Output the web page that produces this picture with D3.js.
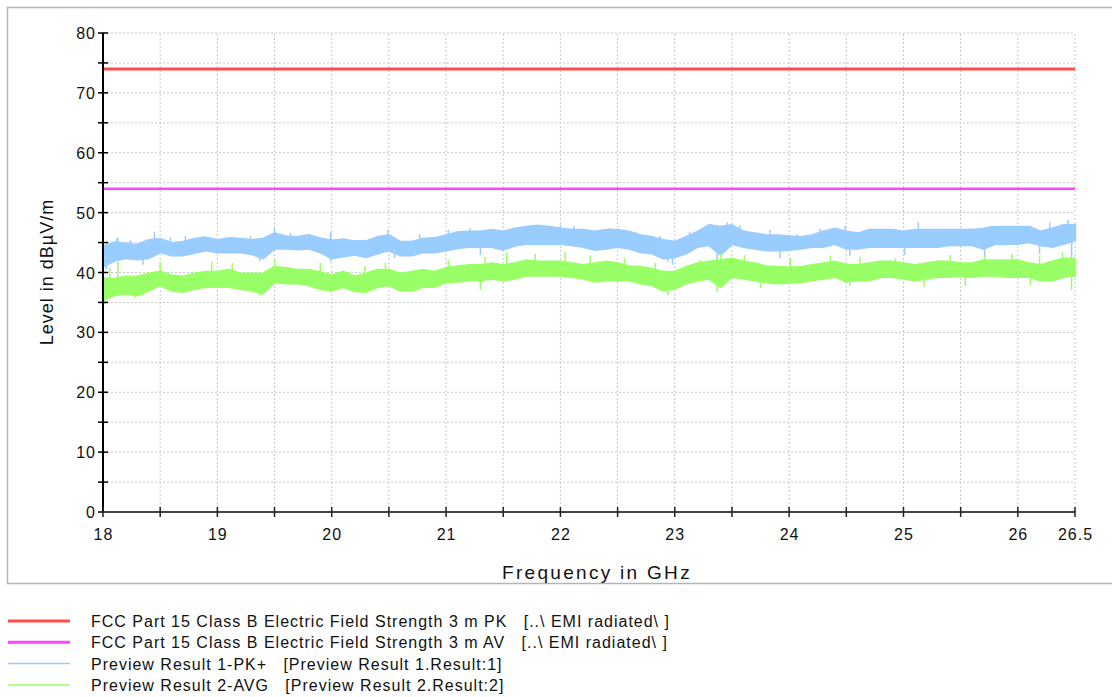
<!DOCTYPE html>
<html>
<head>
<meta charset="utf-8">
<script src="https://cdn.jsdelivr.net/npm/d3@7"></script>
<style>
body { margin: 0; background: #fff; }
svg { font-family: "Liberation Sans", Arial, sans-serif; }
</style>
</head>
<body>
<div id="chart"></div>
<script>
// frequency grid of the traces (GHz), 0.1 GHz steps from 18 to 26.5
var freqs = d3.range(0, 86).map(function(i) { return +(18 + i * 0.1).toFixed(1); });

// limit lines (dBuV/m)
var limitPK = 74;
var limitAV = 54;

// Preview Result 1-PK+ : envelope (low / high)
var pkHigh = [44.3,45.0,44.8,44.6,45.4,45.6,44.9,45.1,45.6,45.8,
              45.4,45.7,45.6,45.4,45.6,46.5,46.0,45.9,46.2,45.7,
              45.3,45.5,45.2,45.2,45.9,46.2,45.1,45.1,45.6,45.7,
              46.2,46.7,46.8,46.8,47.1,46.8,47.3,47.6,47.8,47.6,
              47.3,47.1,47.1,46.8,47.1,47.1,46.8,46.2,45.9,45.4,
              45.1,45.9,46.8,47.9,47.6,47.9,46.8,46.5,46.2,46.2,
              46.0,45.9,46.2,46.8,47.3,46.8,46.5,47.1,47.1,47.1,
              46.8,47.1,47.1,47.1,47.1,47.1,47.1,47.3,47.6,47.6,
              47.6,47.6,46.8,47.3,47.9,47.9];
var pkLow  = [41.0,42.0,42.4,42.2,42.4,43.4,42.9,42.9,43.3,43.7,
              43.4,43.4,43.4,43.1,42.4,44.0,44.0,43.9,44.0,43.4,
              42.4,42.7,43.0,42.6,43.2,43.7,42.9,42.9,43.4,43.4,
              43.7,44.1,44.3,44.3,44.3,43.8,44.5,44.8,44.8,44.8,
              44.8,44.6,44.3,43.8,44.0,44.3,44.0,43.4,43.2,42.4,
              42.6,43.2,44.3,44.6,43.0,44.8,44.3,44.0,43.7,43.7,
              43.8,44.0,44.3,44.3,44.8,44.0,44.0,44.3,44.3,44.3,
              44.3,44.3,44.3,44.3,44.6,44.6,44.6,44.0,44.8,44.8,
              44.8,45.1,44.6,44.3,44.8,45.4];

// Preview Result 2-AVG : envelope (low / high)
var avHigh = [39.0,38.9,39.3,39.3,39.8,40.1,39.5,39.3,39.8,40.1,
              40.1,40.4,39.8,39.8,39.8,40.9,40.7,40.4,40.4,40.0,
              39.5,40.1,39.3,39.8,40.4,40.4,39.8,40.1,40.4,40.1,
              40.7,41.0,41.2,41.2,41.5,41.2,41.5,42.0,41.8,41.8,
              41.8,41.5,41.2,41.5,41.8,41.5,41.0,40.9,40.6,40.1,
              40.1,40.9,41.5,41.8,42.0,42.3,41.8,41.5,41.0,40.9,
              40.8,40.9,41.2,41.5,41.8,41.3,41.2,41.5,41.8,41.8,
              41.5,41.2,41.5,41.8,41.8,41.5,41.5,42.0,42.0,42.0,
              42.0,41.5,41.2,41.8,42.3,42.3];
var avLow  = [35.5,36.2,36.5,36.2,37.0,37.9,37.0,36.8,37.3,37.6,
              37.6,37.6,37.3,37.0,36.5,38.4,38.2,38.2,37.9,37.3,
              37.0,37.6,36.9,36.8,37.6,37.9,37.0,37.0,37.6,37.6,
              38.4,38.5,38.7,38.7,39.0,38.7,39.0,39.5,39.5,39.5,
              39.5,39.3,39.0,38.5,38.7,38.7,38.7,38.2,37.9,37.0,
              37.3,38.2,38.7,39.0,37.6,39.3,39.0,38.7,38.4,38.2,
              38.3,38.4,38.7,39.0,39.3,38.5,38.7,38.7,39.3,39.3,
              39.0,38.7,39.0,39.3,39.3,39.5,39.3,39.5,39.5,39.3,
              39.3,39.3,38.7,38.7,39.3,39.5];

// single spikes sticking out of the bands [freq, level]
var pkSpikes = [[18.03,40.5],[18.12,45.7],[18.13,45.8],[18.24,45.4],[18.28,42.4],[18.35,41.3],
                [18.45,46.8],[18.59,45.9],[18.72,46.1],[18.87,46.1],[19.13,45.9],[19.29,46.1],
                [19.37,41.9],[19.50,47.4],[19.64,46.6],[19.81,46.4],[19.99,46.8],[19.99,41.8],
                [20.26,45.4],[20.49,47.1],[20.55,42.4],[20.77,46.4],[21.02,47.1],[21.21,47.4],
                [21.30,42.9],[21.38,47.1],[21.56,47.1],[21.65,47.6],[21.80,47.8],[22.00,48.0],
                [22.12,47.8],[22.43,47.4],[22.65,46.8],[22.87,46.1],[22.94,41.8],[22.98,41.3],
                [23.13,46.8],[23.32,48.1],[23.37,41.8],[23.46,48.4],[23.57,47.9],[23.83,47.1],
                [23.92,42.4],[24.07,46.4],[24.27,47.3],[24.49,47.8],[24.53,42.8],[24.71,47.3],
                [24.97,46.8],[25.01,42.9],[25.13,48.4],[25.36,47.1],[25.58,47.4],[25.71,42.6],
                [25.76,47.8],[25.93,47.1],[26.11,47.8],[26.19,43.1],[26.28,48.4],[26.44,48.8],
                [26.47,41.8]];
var avSpikes = [[18.02,34.7],[18.06,40.8],[18.13,41.8],[18.28,35.7],[18.35,36.1],[18.50,41.8],
                [18.95,41.8],[19.13,41.6],[19.37,36.1],[19.50,42.1],[19.90,41.6],[19.99,36.7],
                [20.29,41.1],[20.47,41.6],[20.64,37.1],[21.02,42.1],[21.30,37.1],[21.34,42.6],
                [21.53,43.4],[21.78,43.1],[22.04,43.4],[22.26,42.8],[22.56,42.4],[22.83,41.6],
                [22.94,36.2],[23.22,42.1],[23.37,36.7],[23.40,43.1],[23.61,42.9],[23.75,37.4],
                [24.01,42.4],[24.36,42.8],[24.53,37.7],[24.62,42.6],[24.93,42.4],[25.18,37.6],
                [25.41,42.9],[25.54,37.7],[25.71,42.8],[25.95,43.1],[26.11,37.9],[26.19,42.8],
                [26.39,43.4],[26.47,37.1]];

var xTicks = [18, 19, 20, 21, 22, 23, 24, 25, 26, 26.5];
var yTicks = [0, 10, 20, 30, 40, 50, 60, 70, 80];

var legendItems = [
  { label: "FCC Part 15 Class B Electric Field Strength 3 m PK   [..\\ EMI radiated\\ ]", color: "#ff4d4d", w: 3 },
  { label: "FCC Part 15 Class B Electric Field Strength 3 m AV   [..\\ EMI radiated\\ ]", color: "#ff44ff", w: 3 },
  { label: "Preview Result 1-PK+   [Preview Result 1.Result:1]", color: "#99ccff", w: 1.5 },
  { label: "Preview Result 2-AVG   [Preview Result 2.Result:2]", color: "#99ff66", w: 1.5 }
];

var W = 1112, H = 697;
var svg = d3.select("#chart").append("svg")
  .attr("width", W)
  .attr("height", H);

// outer frame
svg.append("rect")
  .attr("x", 7.5).attr("y", 7.5)
  .attr("width", 1110).attr("height", 576)
  .attr("fill", "none")
  .attr("stroke", "#b4b4b4")
  .attr("stroke-width", 1.5);

var x = d3.scaleLinear().domain([18, 26.5]).range([103, 1075]);
var y = d3.scaleLinear().domain([0, 80]).range([512, 33]);

// grid
svg.append("g")
  .selectAll("line")
  .data(d3.range(5, 81, 5))
  .enter().append("line")
  .attr("x1", x(18)).attr("x2", x(26.5))
  .attr("y1", function(d) { return y(d); })
  .attr("y2", function(d) { return y(d); })
  .attr("stroke", "#c8c8c8")
  .attr("stroke-dasharray", "2,2");
svg.append("g")
  .selectAll("line")
  .data(d3.range(18.5, 26.51, 0.5))
  .enter().append("line")
  .attr("y1", y(0)).attr("y2", y(80))
  .attr("x1", function(d) { return x(d); })
  .attr("x2", function(d) { return x(d); })
  .attr("stroke", "#c8c8c8")
  .attr("stroke-dasharray", "2,2");

// limit lines
svg.append("line")
  .attr("x1", x(18)).attr("x2", x(26.5))
  .attr("y1", y(limitPK)).attr("y2", y(limitPK))
  .attr("stroke", "#ff4d4d").attr("stroke-width", 3);
svg.append("line")
  .attr("x1", x(18)).attr("x2", x(26.5))
  .attr("y1", y(limitAV)).attr("y2", y(limitAV))
  .attr("stroke", "#ff44ff").attr("stroke-width", 2.5);

function band(lo, hi, spikes, color) {
  var rows = freqs.map(function(f, i) { return { f: f, lo: lo[i], hi: hi[i] }; });
  svg.append("path")
    .datum(rows)
    .attr("fill", color)
    .attr("stroke", color)
    .attr("stroke-width", 2.5)
    .attr("stroke-linejoin", "miter")
    .attr("d", d3.area()
      .x(function(d) { return x(d.f); })
      .y0(function(d) { return y(d.lo); })
      .y1(function(d) { return y(d.hi); }));
  svg.append("g")
    .selectAll("line")
    .data(spikes)
    .enter().append("line")
    .attr("x1", function(d) { return x(d[0]); })
    .attr("x2", function(d) { return x(d[0]); })
    .attr("y1", function(d) {
      var i = Math.round((d[0] - 18) * 10);
      return y((lo[i] + hi[i]) / 2);
    })
    .attr("y2", function(d) { return y(d[1]); })
    .attr("stroke", color)
    .attr("stroke-width", 1.5);
}
band(pkLow, pkHigh, pkSpikes, "#99ccff");
band(avLow, avHigh, avSpikes, "#99ff66");

// y axis
svg.append("line")
  .attr("x1", x(18)).attr("x2", x(18))
  .attr("y1", y(0)).attr("y2", y(80))
  .attr("stroke", "#000").attr("stroke-width", 2);
svg.append("g")
  .selectAll("line")
  .data(d3.range(0, 81, 5))
  .enter().append("line")
  .attr("x1", x(18) - 5).attr("x2", x(18) + 5)
  .attr("y1", function(d) { return y(d); })
  .attr("y2", function(d) { return y(d); })
  .attr("stroke", "#000").attr("stroke-width", 1.5);
svg.append("g")
  .selectAll("text")
  .data(yTicks)
  .enter().append("text")
  .attr("x", x(18) - 7)
  .attr("y", function(d) { return y(d) + 6; })
  .attr("text-anchor", "end")
  .attr("font-size", 16)
  .attr("letter-spacing", 1)
  .attr("fill", "#111")
  .text(function(d) { return d; });

// x axis
svg.append("line")
  .attr("x1", x(18)).attr("x2", x(26.5))
  .attr("y1", y(0)).attr("y2", y(0))
  .attr("stroke", "#444").attr("stroke-width", 2);
svg.append("g")
  .selectAll("line")
  .data(d3.range(18, 26.51, 0.5))
  .enter().append("line")
  .attr("x1", function(d) { return x(d); })
  .attr("x2", function(d) { return x(d); })
  .attr("y1", y(0) - 5).attr("y2", y(0) + 5)
  .attr("stroke", "#222").attr("stroke-width", 1.5);
svg.append("g")
  .selectAll("text")
  .data(xTicks)
  .enter().append("text")
  .attr("x", function(d) { return x(d) + 0.5; })
  .attr("y", 540)
  .attr("text-anchor", "middle")
  .attr("font-size", 16)
  .attr("letter-spacing", 1)
  .attr("fill", "#111")
  .text(function(d) { return d; });

// axis titles
svg.append("text")
  .attr("x", 597).attr("y", 579)
  .attr("text-anchor", "middle")
  .attr("font-size", 19)
  .attr("letter-spacing", 2.3)
  .attr("fill", "#111")
  .text("Frequency in GHz");
svg.append("text")
  .attr("transform", "translate(53,272) rotate(-90)")
  .attr("text-anchor", "middle")
  .attr("font-size", 18)
  .attr("letter-spacing", 1)
  .attr("fill", "#111")
  .text("Level in dBµV/m");

// legend
var leg = svg.append("g")
  .selectAll("g")
  .data(legendItems)
  .enter().append("g")
  .attr("transform", function(d, i) { return "translate(0," + (621 + i * 21.3) + ")"; });
leg.append("line")
  .attr("x1", 8).attr("x2", 70)
  .attr("stroke", function(d) { return d.color; })
  .attr("stroke-width", function(d) { return d.w; });
leg.append("text")
  .attr("x", 91).attr("y", 6)
  .attr("font-size", 16)
  .attr("letter-spacing", 1)
  .attr("fill", "#111")
  .style("white-space", "pre")
  .text(function(d) { return d.label; });
</script>
</body>
</html>
